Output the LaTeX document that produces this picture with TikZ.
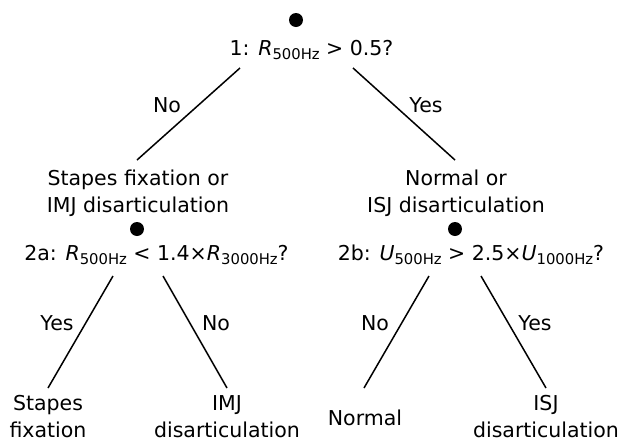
\documentclass[tikz,border=0pt]{standalone}
\usepackage{fontspec}
\setmainfont{DejaVu Sans}
\usetikzlibrary{positioning}
\tikzset{
  dot/.style      = {circle, fill=black, inner sep=0pt, minimum size=7pt},
  qtext/.style    = {font=\fontsize{10.25}{13.3}\selectfont, anchor=base, inner sep=0pt},
  outcome/.style  = {qtext, align=center},
  answer/.style   = {qtext},
  branch/.style   = {draw=black, line width=0.75pt},
}
\newcommand{\subq}[2]{\textit{#1}\raisebox{-2.3pt}{\fontsize{7.4}{8}\selectfont #2}}

\begin{document}
\begin{tikzpicture}[x=0.5pt,y=-0.5pt]
  \useasboundingbox (0,0) rectangle (623,440);

  % ---- question 1 ----
  \node[dot] (d1) at (296,20) {};
  \node[qtext] (q1) at (311.5,55) {1: \subq{R}{500Hz} > 0.5?};

  % ---- second level ----
  \node[outcome] (sfimj) at (138,212) {Stapes fixation or\\IMJ disarticulation};
  \node[outcome] (normisj) at (456,212) {Normal or\\ISJ disarticulation};
  \node[dot] (d2a) at (137,229) {};
  \node[dot] (d2b) at (455,229) {};
  \node[qtext] (q2a) at (156.5,260) {2a: \subq{R}{500Hz} < 1.4×\subq{R}{3000Hz}?};
  \node[qtext] (q2b) at (471,260) {2b: \subq{U}{500Hz} > 2.5×\subq{U}{1000Hz}?};

  % ---- leaves ----
  \node[outcome] (stapes) at (48,437) {Stapes\\fixation};
  \node[outcome] (imj) at (227,437) {IMJ\\disarticulation};
  \node[outcome] (normal) at (365,425) {Normal};
  \node[outcome] (isj) at (546,437) {ISJ\\disarticulation};

  % branch ends
  \foreach \n/\p in {q1-no/{240,68}, q1-yes/{353,68}, sfimj-top/{137,160}, normisj-top/{455,160},
                     q2a-yes/{113,276}, q2a-no/{163,276}, q2b-no/{429,276}, q2b-yes/{481,276},
                     stapes-top/{48,388}, imj-top/{227,388}, normal-top/{364,388}, isj-top/{546,388}}
    \coordinate (\n) at (\p);

  \draw[branch] (q1-no) -- (sfimj-top);
  \draw[branch] (q1-yes) -- (normisj-top);
  \draw[branch] (q2a-yes) -- (stapes-top);
  \draw[branch] (q2a-no) -- (imj-top);
  \draw[branch] (q2b-no) -- (normal-top);
  \draw[branch] (q2b-yes) -- (isj-top);

  % answers
  \foreach \a/\x/\y/\t in {a1/167/112/No, a2/426/112/Yes, a3/57/330/Yes, a4/216/330/No, a5/375/330/No, a6/535/330/Yes}
    \node[answer] (\a) at (\x,\y) {\t};
\end{tikzpicture}
\end{document}
